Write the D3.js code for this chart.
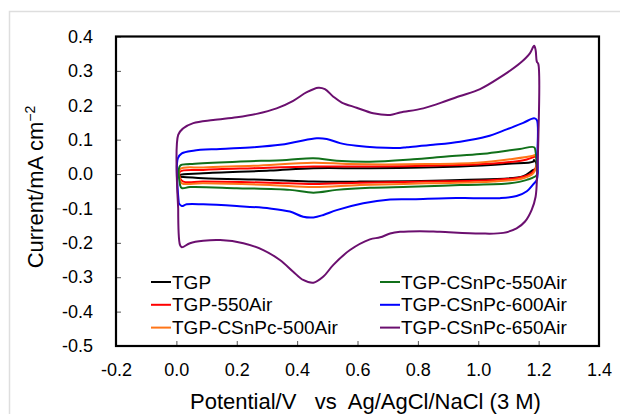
<!DOCTYPE html>
<html lang="en">
<head>
<meta charset="UTF-8">
<title>Cyclic voltammograms</title>
<style>
    body { margin: 0; padding: 0; background: #fff; }
    svg { display: block; font-family: "Liberation Sans", Arial, sans-serif; }
    .tick-label { font-size: 18px; fill: #000; }
    .legend text { font-size: 19px; fill: #000; }
    .axis-title { font-size: 22px; fill: #000; white-space: pre; }
</style>
</head>
<body>
<svg id="chart" width="620" height="414"></svg>

<script src="https://d3js.org/d3.v7.min.js"></script>
<script>
// tick labels
const xTicks = [-0.2, 0.0, 0.2, 0.4, 0.6, 0.8, 1.0, 1.2, 1.4];
const yTicks = [0.4, 0.3, 0.2, 0.1, 0.0, -0.1, -0.2, -0.3, -0.4, -0.5];

// series names, in legend order
const names = ["TGP", "TGP-550Air", "TGP-CSnPc-500Air", "TGP-CSnPc-550Air", "TGP-CSnPc-600Air", "TGP-CSnPc-650Air"];
const colors = ["#000000", "#ff0000", "#ff7518", "#11701a", "#0000ff", "#6b0f6f"];

// [potential V, current mA cm-2], anodic sweep then cathodic sweep
const tgp = [[0.012,-0.008],[0.012,-0.003],[0.089,0.002],[0.31,0.01],[0.454,0.017],[0.641,0.017],[0.94,0.022],[1.1,0.03],[1.182,0.036],[1.185,0.041],[1.194,0.026],[1.194,0.015],[1.182,0.012],[1.149,-0.006],[0.94,-0.017],[0.608,-0.022],[0.454,-0.022],[0.31,-0.017],[0.089,-0.012],[0.012,-0.008]];
const tgp550 = [[0.012,-0.012],[0.012,0.007],[0.089,0.012],[0.255,0.017],[0.454,0.022],[0.641,0.022],[0.829,0.024],[1.05,0.031],[1.15,0.04],[1.182,0.049],[1.19,0.051],[1.194,0.03],[1.182,0.007],[1.149,-0.008],[1.05,-0.017],[0.829,-0.022],[0.608,-0.025],[0.454,-0.029],[0.31,-0.025],[0.089,-0.022],[0.023,-0.022],[0.012,-0.012]];
const pc500 = [[0.012,-0.017],[0.012,0.014],[0.089,0.019],[0.255,0.024],[0.454,0.033],[0.575,0.029],[0.829,0.029],[0.995,0.033],[1.105,0.043],[1.182,0.053],[1.19,0.056],[1.194,0.03],[1.182,0.002],[1.149,-0.012],[1.05,-0.022],[0.829,-0.027],[0.608,-0.032],[0.454,-0.038],[0.31,-0.032],[0.089,-0.027],[0.018,-0.027],[0.012,-0.017]];
const pc550 = [[0.012,-0.032],[0.012,0.024],[0.045,0.029],[0.2,0.036],[0.365,0.041],[0.454,0.046],[0.531,0.039],[0.641,0.036],[0.785,0.043],[0.895,0.051],[1.006,0.058],[1.072,0.065],[1.138,0.073],[1.185,0.078],[1.19,0.065],[1.194,0.02],[1.194,-0.003],[1.161,-0.017],[1.105,-0.027],[0.94,-0.032],[0.774,-0.037],[0.641,-0.04],[0.531,-0.046],[0.454,-0.054],[0.376,-0.046],[0.2,-0.041],[0.045,-0.038],[0.018,-0.041],[0.012,-0.032]];
const pc600 = [[0.008,-0.085],[0.005,0.046],[0.018,0.06],[0.056,0.068],[0.145,0.073],[0.255,0.078],[0.343,0.085],[0.399,0.094],[0.465,0.104],[0.498,0.102],[0.542,0.09],[0.597,0.082],[0.664,0.077],[0.741,0.076],[0.763,0.078],[0.851,0.085],[0.94,0.094],[1.028,0.109],[1.094,0.13],[1.149,0.149],[1.185,0.162],[1.194,0.157],[1.196,0.06],[1.194,-0.017],[1.182,-0.03],[1.161,-0.05],[1.127,-0.064],[1.072,-0.07],[0.984,-0.07],[0.895,-0.07],[0.785,-0.073],[0.708,-0.074],[0.619,-0.085],[0.531,-0.105],[0.487,-0.119],[0.454,-0.126],[0.42,-0.124],[0.376,-0.109],[0.31,-0.1],[0.2,-0.093],[0.089,-0.088],[0.034,-0.088],[0.018,-0.093],[0.008,-0.085]];
const pc650 = [[0.006,-0.1],[0.006,0.114],[0.023,0.133],[0.056,0.148],[0.122,0.157],[0.2,0.165],[0.266,0.175],[0.332,0.191],[0.387,0.213],[0.432,0.238],[0.47,0.251],[0.492,0.247],[0.52,0.225],[0.548,0.208],[0.597,0.193],[0.652,0.177],[0.708,0.172],[0.741,0.179],[0.818,0.191],[0.895,0.213],[0.94,0.227],[1.006,0.247],[1.072,0.281],[1.138,0.322],[1.171,0.351],[1.185,0.373],[1.19,0.361],[1.194,0.327],[1.199,0.32],[1.199,0.1],[1.195,0.0],[1.19,-0.066],[1.177,-0.104],[1.155,-0.138],[1.127,-0.158],[1.083,-0.171],[1.006,-0.173],[0.873,-0.168],[0.807,-0.166],[0.741,-0.168],[0.708,-0.173],[0.675,-0.184],[0.641,-0.19],[0.575,-0.221],[0.52,-0.264],[0.487,-0.298],[0.454,-0.316],[0.42,-0.308],[0.387,-0.284],[0.343,-0.25],[0.288,-0.221],[0.222,-0.201],[0.145,-0.192],[0.089,-0.194],[0.045,-0.201],[0.018,-0.213],[0.012,-0.206],[0.006,-0.1]];

const series = [tgp, tgp550, pc500, pc550, pc600, pc650];

const svg = d3.select("#chart");

// light frame round the figure
svg.append("path")
    .attr("d", "M9.5,414 V11.5 H620")
    .attr("fill", "none")
    .attr("stroke", "#dedede")
    .attr("stroke-width", 1.5);

const plotLeft = 116, plotRight = 599, plotTop = 36.5, plotBottom = 346;

const x = d3.scaleLinear().domain([-0.2, 1.4]).range([plotLeft, plotRight]);
const y = d3.scaleLinear().domain([-0.5, 0.4]).range([plotBottom, plotTop]);

// ticks (inside) and labels
const xAxis = svg.append("g").attr("transform", `translate(0,${plotBottom})`)
    .call(d3.axisBottom(x).tickValues(xTicks).tickSize(-5).tickPadding(10));
const yAxis = svg.append("g").attr("transform", `translate(${plotLeft},0)`)
    .call(d3.axisLeft(y).tickValues(yTicks).tickSize(-5).tickPadding(23));

[xAxis, yAxis].forEach(a => {
    a.attr("font-family", null).attr("font-size", null);
    a.select(".domain").remove();
    a.selectAll(".tick line").attr("stroke", "#555").attr("stroke-width", 1);
    a.selectAll(".tick text").attr("class", "tick-label").attr("fill", null)
        .text(d => d3.format(".1f")(d).replace("\u2212", "-"));
});
xAxis.selectAll(".tick text").attr("dy", "0.71em").attr("y", 17);

// curves
const line = d3.line()
    .x(d => x(d[0]))
    .y(d => y(d[1]))
    .curve(d3.curveCatmullRom.alpha(0.5));

svg.append("g").selectAll("path")
    .data(series)
    .join("path")
    .attr("d", line)
    .attr("fill", "none")
    .attr("stroke", (d, i) => colors[i])
    .attr("stroke-width", 2)
    .attr("stroke-linejoin", "round");

// plot frame
svg.append("rect")
    .attr("x", plotLeft).attr("y", plotTop)
    .attr("width", plotRight - plotLeft).attr("height", plotBottom - plotTop)
    .attr("fill", "none")
    .attr("stroke", "#000")
    .attr("stroke-width", 2.2);

// legend, two columns of three
const legend = svg.append("g").attr("class", "legend");
const item = legend.selectAll("g")
    .data(names)
    .join("g")
    .attr("transform", (d, i) => `translate(${i < 3 ? 151 : 380},${282 + (i % 3) * 22.8})`);
item.append("line")
    .attr("x1", 0).attr("x2", 20)
    .attr("stroke", (d, i) => colors[i])
    .attr("stroke-width", 2);
item.append("text")
    .attr("x", 21)
    .attr("dy", "0.35em")
    .text(d => d);

// axis titles
svg.append("text")
    .attr("class", "axis-title")
    .attr("x", 190)
    .attr("y", 409)
    .text("Potential/V   vs  Ag/AgCl/NaCl (3 M)");

const yt = svg.append("text")
    .attr("class", "axis-title")
    .attr("transform", "translate(43,187) rotate(-90)")
    .attr("text-anchor", "middle");
yt.append("tspan").text("Current/mA cm");
yt.append("tspan").attr("font-size", "14px").attr("dy", "-8").text("\u22122");
</script>
</body>
</html>
